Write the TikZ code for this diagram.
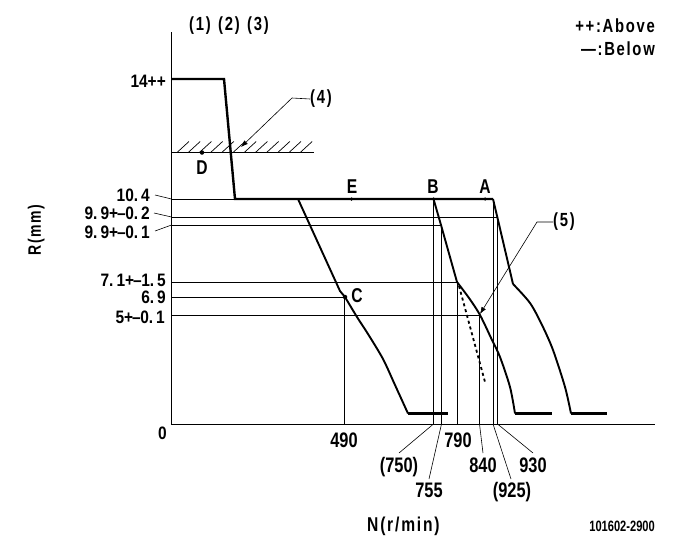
\documentclass[tikz,border=0pt]{standalone}
\usepackage{fontspec}
\setmainfont{Liberation Sans}[FakeStretch=0.78,BoldFont={Liberation Sans Bold}]
\newfontfamily\smallfont{Liberation Sans Bold}[FakeStretch=0.74]
\newfontfamily\widefont{Liberation Sans Bold}[FakeStretch=0.78,LetterSpace=9]
\newfontfamily\yfont{Liberation Sans Bold}[FakeStretch=0.86]
\usetikzlibrary{arrows.meta}
\newcommand{\plusdash}{+\kern-1pt–\kern-0.5pt}
\tikzset{
  thin line/.style={line width=0.8pt,black},
  curve/.style={line width=2.4pt,black,line join=miter},
  midcurve/.style={line width=1.9pt,black,line join=round},
  dash curve/.style={line width=1.8pt,black,dash pattern=on 3pt off 3pt},
  leader/.style={line width=0.6pt,black},
  arrowed/.style={leader,-{Latex[length=7pt,width=5pt]}},
  hatchline/.style={line width=0.7pt,black},
  lab/.style={inner sep=0pt,font=\yfont\fontsize{18}{18}\selectfont,anchor=base east,text height=13pt,text depth=0pt},
  blab/.style={inner sep=0pt,font=\bfseries\fontsize{21}{21}\selectfont,anchor=base},
  letterlab/.style={inner sep=0pt,font=\bfseries\fontsize{20}{20}\selectfont,anchor=base},
  calllab/.style={inner sep=0pt,font=\widefont\fontsize{19}{19}\selectfont},
  legendlab/.style={inner sep=0pt,anchor=base east,font=\widefont\fontsize{19}{19}\selectfont},
  pt/.style={circle,fill=black,inner sep=0pt,minimum size=4.5pt},
}
\begin{document}
\begin{tikzpicture}[x=1pt,y=-1pt]
\useasboundingbox (0,0) rectangle (681,549);
% axes
\coordinate (O) at (171.5,424);
\coordinate (Ytop) at (171.5,32);
\coordinate (Xend) at (655,424);
\draw[thin line] (Ytop) -- (O) -- (Xend);
% key points
\coordinate (h104) at (171.5,199);
\coordinate (h99a) at (171.5,217);
\coordinate (h99b) at (171.5,225);
\coordinate (h71)  at (171.5,282.5);
\coordinate (h69)  at (171.5,297);
\coordinate (h5)   at (171.5,315.5);
\coordinate (v490) at (344.5,424);
\coordinate (v750) at (433.5,424);
\coordinate (v755) at (441.5,424);
\coordinate (v790) at (457.5,424);
\coordinate (v840) at (479.5,424);
\coordinate (v925) at (493,424);
\coordinate (v930) at (497.5,424);
% grid
\draw[thin line] (h104) -- (235,199);
\draw[thin line] (h99a) -- (497.5,217) -- (v930);
\draw[thin line] (h99b) -- (441.5,225) -- (v755);
\draw[thin line] (h71) -- (457.5,282.5) -- (v790);
\draw[thin line] (h69) -- (344.5,297) -- (v490);
\draw[thin line] (h5) -- (479.5,315.5) -- (v840);
\draw[thin line] (433.5,199) -- (v750);
\draw[thin line] (493,199) -- (v925);
% hatch
\coordinate (hs) at (171.5,152.5);
\coordinate (he) at (314,152.5);
\draw[thin line] (hs) -- (he);
\foreach \x in {177,188.2,...,303}
  \draw[hatchline] (\x,152.5) -- (\x+12,141.5);
% curves
\draw[curve] (171.5,79) -- (224,79) -- (235,199) -- (493,199);
\draw[midcurve] (298,199) -- (340,291) -- (345,297);
\draw[midcurve] plot[smooth,tension=0.5] coordinates {(345,297) (357,317) (368,334) (383,359) (395,385) (408,413.5)};
\draw[curve] (408,413.5) -- (448,413.5);
\draw[midcurve] (433.5,199) -- (441,225) -- (457,282);
\draw[midcurve] plot[smooth,tension=0.5] coordinates {(457,282) (469,298) (480,315) (492,340) (500,357) (510,387) (515,413.5)};
\draw[curve] (515,413.5) -- (552,413.5);
\draw[midcurve] (493,199) -- (498,220) -- (513,284);
\draw[midcurve] plot[smooth,tension=0.5] coordinates {(513,284) (530,303) (542,325) (553,350) (565,387) (571,413.5)};
\draw[curve] (571,413.5) -- (607,413.5);
\draw[dash curve] (459,286) -- (485,382);
% points
\node[pt] (D) at (202,152.5) {};
\node[pt,minimum size=3.5pt] (E) at (351.5,199) {};
\node[pt,minimum size=3.5pt] (B) at (433.5,199) {};
\node[pt,minimum size=3.5pt] (A) at (485,199) {};
\node[pt] (C) at (345,297) {};
% point labels
\node[letterlab] at (202,174) {D};
\node[letterlab] at (352,193) {E};
\node[letterlab] at (433,193) {B};
\node[letterlab] at (485,193) {A};
\node[letterlab] at (357,302) {C};
% callouts
\node[calllab] (n1) at (200,26) {(1)};
\node[calllab] (n2) at (229,26) {(2)};
\node[calllab] (n3) at (258,26) {(3)};
\node[calllab] (n4) at (321,99) {(4)};
\node[calllab] (n5) at (564,222) {(5)};
\coordinate (t4) at (241,147);
\coordinate (t5) at (480,314);
\draw[arrowed] (n4.west) -- (292,98) -- (t4);
\draw[arrowed] (n5.west) -- (537,222) -- (t5);
% y labels
\node[lab] at (166,87) {14++};
\node[lab] (l104) at (150,201.5) {10.\,4};
\node[lab] (l99a) at (150,219.5) {9.\,9\plusdash 0.\,2};
\node[lab] (l99b) at (150,238) {9.\,9\plusdash 0.\,1};
\node[lab] at (166,286.5) {7.\,1\plusdash 1.\,5};
\node[lab] at (166,303.5) {6.\,9};
\node[lab] at (165,323) {5\plusdash 0.\,1};
\node[lab] at (167,439) {0};
\coordinate (a104) at (155,195);
\coordinate (a99a) at (154,213);
\coordinate (a99b) at (155,231);
\draw[leader] (a104) -- (h104);
\draw[leader] (a99a) -- (h99a);
\draw[leader] (a99b) -- (h99b);
% x labels
\node[blab] at (344,447) {490};
\node[blab] at (458,447) {790};
\node[blab] at (399,472) {(750)};
\node[blab] at (483,472) {840};
\node[blab] at (533,472) {930};
\node[blab] at (429,497) {755};
\node[blab] at (512,497) {(925)};
\coordinate (b750) at (399,453);
\coordinate (b755) at (429,479);
\coordinate (b840) at (483,453);
\coordinate (b925) at (511,479);
\coordinate (b930) at (533,453);
\draw[leader] (v750) -- (b750);
\draw[leader] (v755) -- (b755);
\draw[leader] (v840) -- (b840);
\draw[leader] (v925) -- (b925);
\draw[leader] (v930) -- (b930);
% axis titles
\node[inner sep=0pt,anchor=base west,font=\widefont\fontsize{20}{20}\selectfont] at (367,531) {N(r/min)};
\node[inner sep=0pt,anchor=base,rotate=90,font=\widefont\fontsize{18}{18}\selectfont] at (41,230) {R(mm)};
\node[inner sep=0pt,anchor=base east,font=\smallfont\fontsize{15}{15}\selectfont] at (655,531) {101602-2900};
% legend
\node[legendlab] at (655,32) {++:Above};
\node[legendlab] at (655,55) {—:Below};
\end{tikzpicture}
\end{document}
